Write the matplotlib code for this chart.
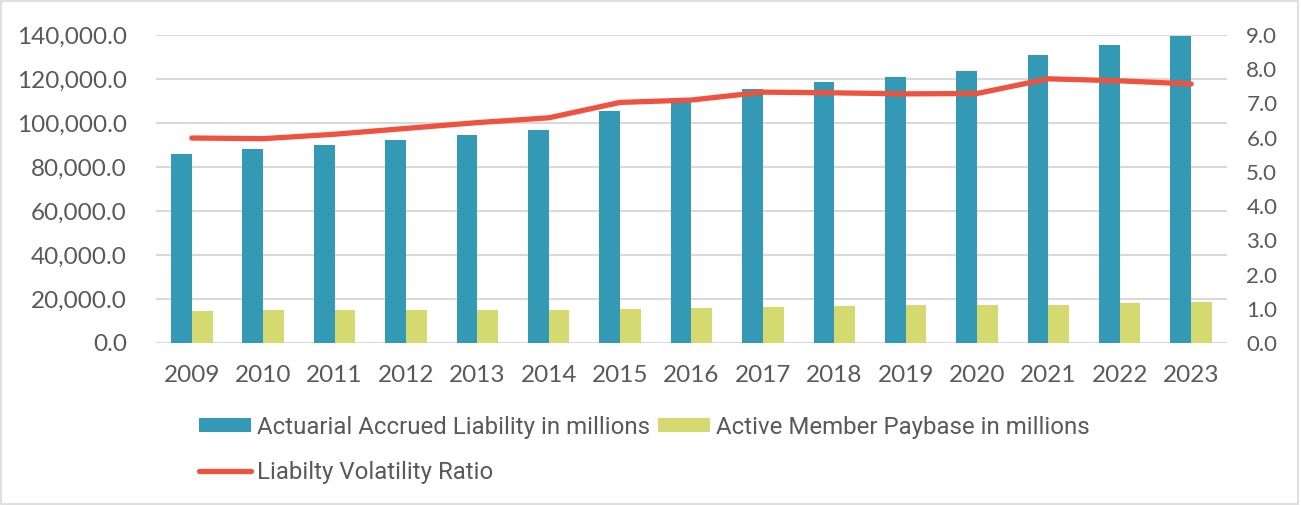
import numpy as np
import matplotlib.pyplot as plt
from matplotlib.patches import Rectangle

years = ['2009', '2010', '2011', '2012', '2013', '2014', '2015', '2016',
         '2017', '2018', '2019', '2020', '2021', '2022', '2023']
# millions
liability = [86000, 88200, 89900, 92100, 94400, 96800, 105500, 109700,
             115500, 118600, 120900, 123600, 131000, 135500, 139700]
paybase = [14700, 15100, 14900, 14900, 14900, 15100, 15300, 15800,
           16200, 16700, 17100, 17400, 17400, 18200, 18800]
ratio = [5.99, 5.97, 6.10, 6.27, 6.44, 6.58, 7.03, 7.10,
         7.33, 7.31, 7.28, 7.29, 7.72, 7.66, 7.57]

blue = '#3399B5'
yellow = '#D4DA6F'
red = '#EF5340'
txt = '#595959'
grid = '#D9D9D9'

fig = plt.figure(figsize=(13.01, 5.05), dpi=100)
ax = fig.add_axes([0.12, 0.3208, 0.823, 0.6099])
ax2 = ax.twinx()

x = np.arange(len(years))
w = 0.29
b1 = ax.bar(x - w / 2, liability, w, color=blue, zorder=2)
b2 = ax.bar(x + w / 2, paybase, w, color=yellow, zorder=2)
ln, = ax2.plot(x, ratio, color=red, lw=3.8, solid_capstyle='round', zorder=3)

ax.set_xlim(-0.5, len(years) - 0.5)
ax.set_ylim(0, 140000)
ax.set_yticks(np.arange(0, 140001, 20000))
ax.set_yticklabels([f'{v:,.1f}' for v in np.arange(0, 140001, 20000)])
ax2.set_ylim(0, 9)
ax2.set_yticks(np.arange(0, 9.01, 1))
ax2.set_yticklabels([f'{v:.1f}' for v in np.arange(0, 9.01, 1)])
ax.set_xticks(x)
ax.set_xticklabels(years)

ax.grid(axis='y', color=grid, lw=1.5, zorder=0)
ax.set_axisbelow(True)
for a in (ax, ax2):
    for s in a.spines.values():
        s.set_visible(False)
    a.tick_params(length=0, colors=txt, labelsize=17.5)
    for lab in a.get_xticklabels() + a.get_yticklabels():
        lab.set_fontfamily('Lato')
ax.tick_params(axis='y', pad=21)
ax.tick_params(axis='x', pad=16)
ax2.tick_params(axis='y', pad=14, labelsize=16)
ax2.set_zorder(ax.get_zorder() + 1)
ax2.patch.set_visible(False)

leg = fig.legend([b1, ln, b2],
                 ['Actuarial Accrued Liability in millions', 'Liabilty Volatility Ratio',
                  'Active Member Paybase in millions'],
                 ncol=2, loc='upper left', bbox_to_anchor=(0.153, 0.177),
                 frameon=False, borderpad=0, borderaxespad=0,
                 handlelength=2.17, handleheight=0.55, handletextpad=0.25,
                 columnspacing=0.32, labelspacing=0.92,
                 prop={'family': 'Roboto', 'size': 17.3})
for t in leg.get_texts():
    t.set_color(txt)

fig.patches.append(Rectangle((0.001, 0.002), 0.997, 0.996, transform=fig.transFigure,
                             fill=False, edgecolor='#D9D9D9', lw=1.2))

fig.savefig('out.png', dpi=100)
